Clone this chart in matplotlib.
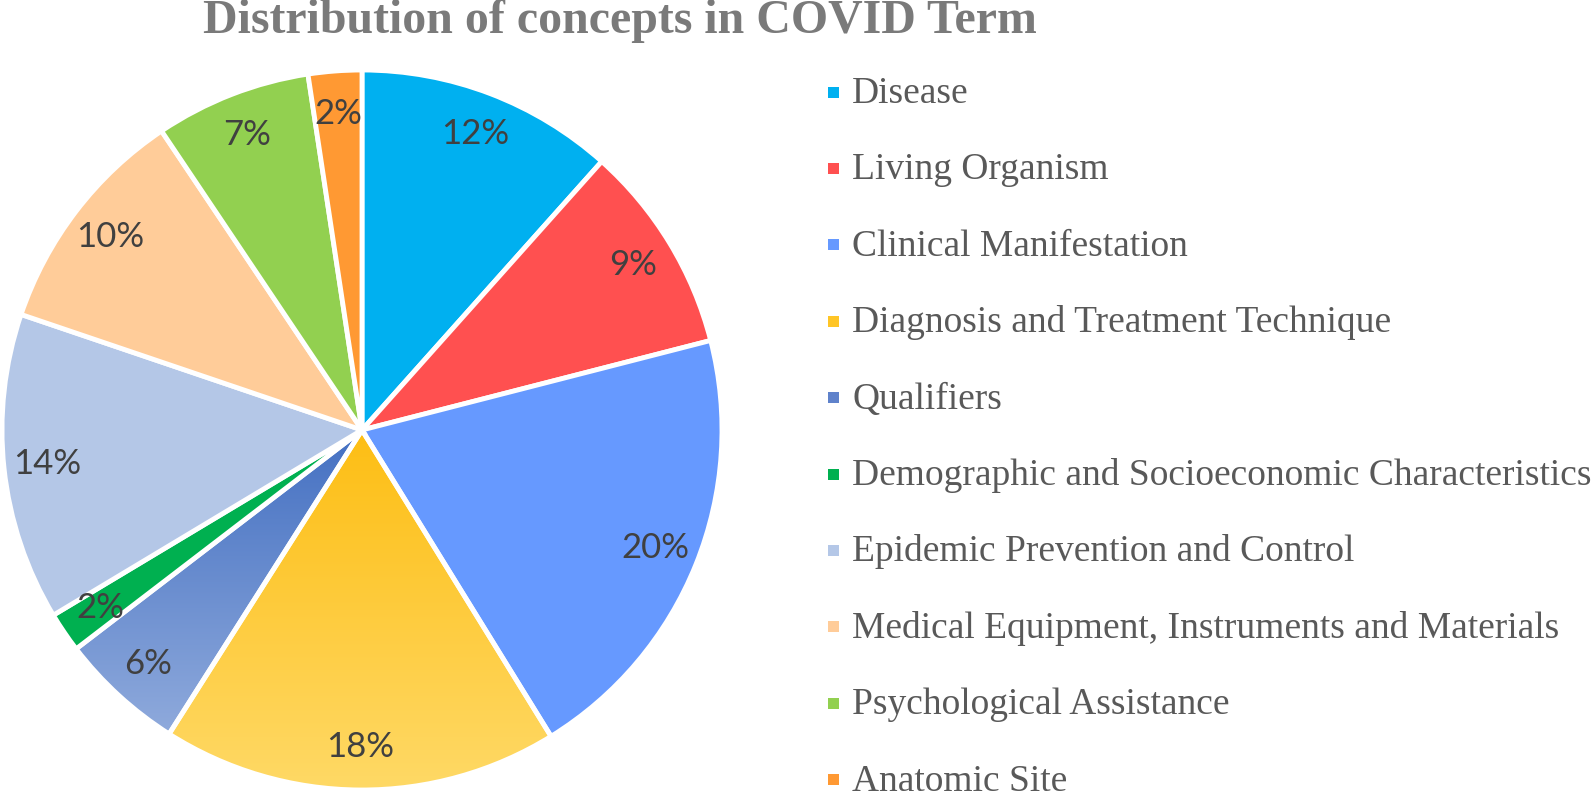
#!/usr/bin/env python3
from __future__ import annotations

import numpy as np
import matplotlib
matplotlib.use("Agg")
import matplotlib.pyplot as plt
from matplotlib.colors import LinearSegmentedColormap
from matplotlib.patches import Rectangle

OUT = "out.png"

TITLE = "Distribution of concepts in COVID Term"

CATEGORIES = [
    "Disease",
    "Living Organism",
    "Clinical Manifestation",
    "Diagnosis and Treatment Technique",
    "Qualifiers",
    "Demographic and Socioeconomic Characteristics",
    "Epidemic Prevention and Control",
    "Medical Equipment, Instruments and Materials",
    "Psychological Assistance",
    "Anatomic Site",
]
# share of concepts (%)
SHARES = [11.6, 9.4, 20.2, 17.8, 5.6, 1.8, 13.8, 10.4, 7.0, 2.4]

COLORS = [
    "#00B0F0", "#FF5050", "#6699FF", "#FFC000", "#4472C4",
    "#00B050", "#B4C7E7", "#FFCC99", "#92D050", "#FF9933",
]
# slices filled with a top-to-bottom gradient
GRADIENTS = {
    3: ("#FDBE14", "#FFD966"),
    4: ("#4470C2", "#8FAADC"),
}
LEGEND_COLORS = list(COLORS)
LEGEND_COLORS[3] = "#FFC526"
LEGEND_COLORS[4] = "#5F82CB"

W, H, DPI = 1594, 794, 100


def px_x(x):
    return x / W


def px_y(y):
    return 1 - y / H


def main():
    fig = plt.figure(figsize=(W / DPI, H / DPI), dpi=DPI)

    cx, cy, r = 362, 430, 360
    ax = fig.add_axes([px_x(cx - r), px_y(cy + r), 2 * r / W, 2 * r / H])

    wedges, _, autotexts = ax.pie(
        SHARES,
        colors=COLORS,
        startangle=90,
        counterclock=False,
        autopct="%.0f%%",
        pctdistance=0.88,
        wedgeprops=dict(edgecolor="white", linewidth=3.5),
        textprops=dict(family="Lato", fontsize=25, color="#404040"),
    )
    ax.set_aspect("equal")
    ax.axis("off")

    for w in wedges:
        w.set_zorder(3)
    for t in autotexts:
        t.set_zorder(5)

    for idx, (top, bot) in GRADIENTS.items():
        w = wedges[idx]
        verts = w.get_patch_transform().transform(w.get_path().vertices)
        x0, x1 = verts[:, 0].min(), verts[:, 0].max()
        y0, y1 = verts[:, 1].min(), verts[:, 1].max()
        cmap = LinearSegmentedColormap.from_list(f"g{idx}", [top, bot])
        grad = np.linspace(0, 1, 256).reshape(-1, 1)
        im = ax.imshow(grad, cmap=cmap, extent=(x0, x1, y0, y1),
                       origin="upper", aspect="auto", zorder=2)
        im.set_clip_path(w)
        w.set_facecolor("none")
    ax.set_xlim(-1, 1)
    ax.set_ylim(-1, 1)

    fig.text(px_x(203), px_y(33), TITLE, ha="left", va="baseline",
             family="Liberation Serif", fontweight="bold", fontsize=34.5,
             color="#7A7A7A")

    # legend: small squares + labels, one row every ~76 px
    top_y, step = 92, 76.4
    sq = 11
    for i, (lab, col) in enumerate(zip(CATEGORIES, LEGEND_COLORS)):
        yc = top_y + i * step
        fig.patches.append(Rectangle(
            (px_x(828), px_y(yc + sq / 2)), sq / W, sq / H,
            transform=fig.transFigure, facecolor=col, edgecolor="none"))
        fig.text(px_x(852), px_y(yc + 11), lab, ha="left", va="baseline",
                 family="Liberation Serif", fontsize=27, color="#595959")

    fig.savefig(OUT, dpi=DPI)
    plt.close(fig)


if __name__ == "__main__":
    main()
